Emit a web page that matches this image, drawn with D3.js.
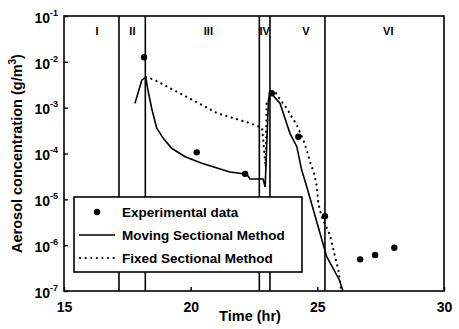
<!DOCTYPE html>
<html>
<head>
<meta charset="utf-8">
<script src="https://cdn.jsdelivr.net/npm/d3@7"></script>
<style>
  body { margin: 0; background: #fff; }
  svg { display: block; }
  text { font-family: "Liberation Sans", Arial, sans-serif; font-weight: bold; fill: #000; }
</style>
</head>
<body>
<svg id="chart" width="459" height="329"></svg>
<script>
// experimental measurements
const expTime = [18.16, 20.24, 22.15, 23.2, 24.25, 25.3, 26.69, 27.28, 28.04];
const expConc = [1.26e-2, 1.06e-4, 3.6e-5, 2.06e-3, 2.32e-4, 4.3e-6, 4.9e-7, 6.1e-7, 8.8e-7];

// moving sectional method (solid)
const movingTime = [17.80, 18.07, 18.23, 18.30, 18.46, 18.66, 18.92, 19.25, 19.78, 20.44, 21.04, 21.55, 22.15, 22.26, 22.34, 22.86, 22.94, 23.07, 23.13, 23.53, 23.66, 23.92, 24.19, 24.38, 24.58, 25.37, 25.87, 26.01];
const movingConc = [1.24e-3, 3.98e-3, 4.59e-3, 2.64e-3, 9.7e-4, 3.55e-4, 2.14e-4, 1.30e-4, 8.5e-5, 6.1e-5, 4.8e-5, 3.94e-5, 3.57e-5, 3.24e-5, 2.77e-5, 2.77e-5, 1.86e-5, 1.48e-3, 2.19e-3, 1.24e-3, 7.5e-4, 2.75e-4, 1.41e-4, 4.4e-5, 1.9e-5, 5.6e-7, 1.74e-7, 1.0e-7];

// fixed sectional method (dotted)
const fixedTime = [18.23, 18.53, 20.44, 21.04, 22.34, 22.82, 22.96, 23.0, 23.33, 23.59, 23.79, 23.99, 24.19, 24.45, 24.58, 24.71, 24.87, 24.98, 25.04, 25.17, 25.50, 25.70, 25.83, 25.94];
const fixedConc = [4.59e-3, 4.17e-3, 1.15e-3, 7.6e-4, 4.6e-4, 3.6e-4, 5.1e-5, 1.26e-3, 2.24e-3, 1.35e-3, 9.8e-4, 6.3e-4, 4.2e-4, 1.95e-4, 1.20e-4, 6.6e-5, 3.7e-5, 1.9e-5, 8.1e-6, 4.2e-6, 1.66e-6, 5.6e-7, 2.9e-7, 1.05e-7];

// stage boundaries and labels
const stageBounds = [17.17, 18.21, 22.71, 23.13, 25.3];
const stageLabels = ["I", "II", "III", "IV", "V", "VI"];
const stageLabelTime = [16.3, 17.7, 20.7, 22.92, 24.55, 27.8];

const xTicks = [15, 20, 25, 30];
const yTicks = [1e-1, 1e-2, 1e-3, 1e-4, 1e-5, 1e-6, 1e-7];

const legendNames = ["Experimental data", "Moving Sectional Method", "Fixed Sectional Method"];

const margin = { left: 64, right: 15, top: 16, bottom: 38 };
const W = 459, H = 329;
const iw = W - margin.left - margin.right;
const ih = H - margin.top - margin.bottom;

const svg = d3.select("#chart");
const g = svg.append("g").attr("transform", `translate(${margin.left},${margin.top})`);

const x = d3.scaleLinear().domain([15, 30]).range([0, iw]);
const y = d3.scaleLog().domain([1e-7, 1e-1]).range([ih, 0]);

// stage dividers
g.append("g").selectAll("line")
  .data(stageBounds)
  .join("line")
  .attr("x1", d => x(d)).attr("x2", d => x(d))
  .attr("y1", 0).attr("y2", ih)
  .attr("stroke", "#000").attr("stroke-width", 1.6);

g.append("g").selectAll("text")
  .data(stageLabels)
  .join("text")
  .attr("x", (d, i) => x(stageLabelTime[i]))
  .attr("y", 19)
  .attr("text-anchor", "middle")
  .attr("font-size", 11)
  .text(d => d);

// curves
const line = d3.line().x(d => x(d[0])).y(d => y(d[1]));

g.append("path")
  .datum(movingTime.map((t, i) => [t, movingConc[i]]))
  .attr("fill", "none").attr("stroke", "#000").attr("stroke-width", 1.6)
  .attr("d", line);

g.append("path")
  .datum(fixedTime.map((t, i) => [t, fixedConc[i]]))
  .attr("fill", "none").attr("stroke", "#000").attr("stroke-width", 2.2)
  .attr("stroke-linecap", "round")
  .attr("stroke-dasharray", "0.1 5.5")
  .attr("d", line);

g.append("g").selectAll("circle")
  .data(expTime)
  .join("circle")
  .attr("cx", d => x(d))
  .attr("cy", (d, i) => y(expConc[i]))
  .attr("r", 3.2)
  .attr("fill", "#000");

// frame
g.append("rect")
  .attr("width", iw).attr("height", ih)
  .attr("fill", "none").attr("stroke", "#000").attr("stroke-width", 1.6);

// axes
const gx = g.append("g").attr("transform", `translate(0,${ih})`)
  .call(d3.axisBottom(x).tickValues(xTicks).tickSizeInner(-4).tickSizeOuter(0).tickPadding(11));
gx.select(".domain").remove();
gx.selectAll(".tick line").attr("stroke-width", 1.4);
gx.selectAll(".tick text").attr("font-size", 14);

const gy = g.append("g")
  .call(d3.axisLeft(y).tickValues(yTicks).tickSizeInner(-4).tickSizeOuter(0).tickPadding(6));
gy.select(".domain").remove();
gy.selectAll(".tick line").attr("stroke-width", 1.4);
gy.selectAll(".tick text")
  .attr("font-size", 14)
  .attr("dy", "0.45em")
  .text(null)
  .each(function (d) {
    const t = d3.select(this);
    t.append("tspan").text("10");
    t.append("tspan").attr("dy", -7).attr("font-size", 9).text(Math.round(Math.log10(d)));
  });
svg.selectAll(".tick text").attr("font-family", null);

// axis titles
g.append("text")
  .attr("x", iw / 2 - 4).attr("y", ih + 30)
  .attr("text-anchor", "middle")
  .attr("font-size", 14.5)
  .text("Time (hr)");

const yl = g.append("text")
  .attr("transform", `translate(${-42},${ih / 2}) rotate(-90)`)
  .attr("text-anchor", "middle")
  .attr("font-size", 14.5);
yl.append("tspan").text("Aerosol concentration (g/m");
yl.append("tspan").attr("dy", -6).attr("font-size", 10).text("3");
yl.append("tspan").attr("dy", 6).text(")");

// legend
const lg = g.append("g").attr("transform", "translate(10,181)");
lg.append("rect")
  .attr("width", 228).attr("height", 75)
  .attr("fill", "#fff").attr("stroke", "#000").attr("stroke-width", 1.6);
const rows = lg.selectAll("g.row").data(legendNames).join("g")
  .attr("class", "row")
  .attr("transform", (d, i) => `translate(0,${15 + i * 23})`);
rows.filter((d, i) => i === 0).append("circle").attr("cx", 23).attr("cy", 0).attr("r", 3.2).attr("fill", "#000");
rows.filter((d, i) => i === 1).append("line").attr("x1", 5).attr("x2", 41).attr("stroke", "#000").attr("stroke-width", 1.6);
rows.filter((d, i) => i === 2).append("line").attr("x1", 6).attr("x2", 41)
  .attr("stroke", "#000").attr("stroke-width", 2.2).attr("stroke-linecap", "round").attr("stroke-dasharray", "0.1 5.5");
rows.append("text")
  .attr("x", 48).attr("dy", "0.35em")
  .attr("font-size", 13.5)
  .text(d => d);
</script>
</body>
</html>
